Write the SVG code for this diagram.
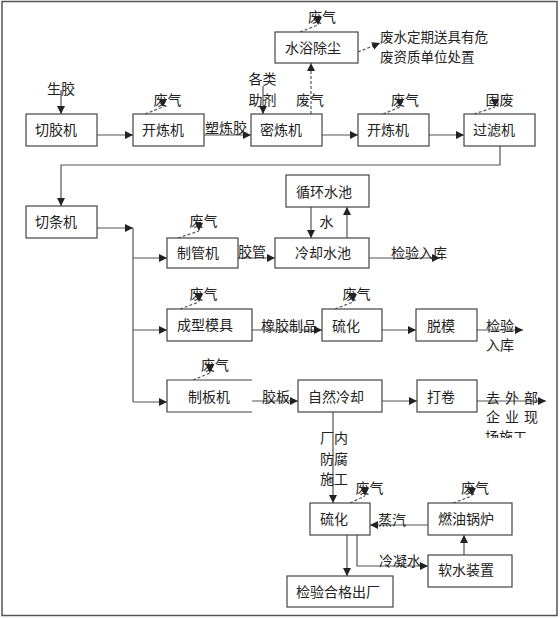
<svg xmlns="http://www.w3.org/2000/svg" width="560" height="618" viewBox="0 0 560 618">
<defs>
<style>
.box{fill:#fff;stroke:#444;stroke-width:1.2}
.ln{fill:none;stroke:#555;stroke-width:1.2}
.ds{fill:none;stroke:#555;stroke-width:1.2;stroke-dasharray:3,2}
text{font-family:"Noto Sans CJK SC","Noto Sans",sans-serif;font-size:14px;fill:#222}
.t{font-size:13.5px}
</style>
<marker id="ar" viewBox="0 0 10 10" refX="10" refY="5" markerWidth="8" markerHeight="8" markerUnits="userSpaceOnUse" orient="auto">
<path d="M0,0 L10,5 L0,10 z" fill="#222"/>
</marker>
<marker id="ad" viewBox="0 0 10 10" refX="10" refY="5" markerWidth="8" markerHeight="8" markerUnits="userSpaceOnUse" orient="90">
<path d="M0,0 L10,5 L0,10 z" fill="#222"/>
</marker>
<clipPath id="cl"><rect x="480" y="425" width="60" height="13"/></clipPath>
</defs>
<rect x="2" y="1.5" width="555" height="614" fill="#fff" stroke="#555" stroke-width="1.5"/>

<g id="connectors">
<path class="ln" d="M61,90 V114" marker-end="url(#ar)"/>
<path class="ln" d="M97,135 H133" marker-end="url(#ar)"/>
<path class="ln" d="M204,135 H251" marker-end="url(#ar)"/>
<path class="ln" d="M263,86 V114" marker-end="url(#ar)"/>
<path class="ln" d="M322,135 H358" marker-end="url(#ar)"/>
<path class="ln" d="M429,135 H464" marker-end="url(#ar)"/>
<path class="ln" d="M500,146 V165 H61 V206" marker-end="url(#ar)"/>
<path class="ln" d="M97,228 H133" marker-end="url(#ar)"/>
<path class="ln" d="M133,228 V402"/>
<path class="ln" d="M133,258 H167" marker-end="url(#ar)"/>
<path class="ln" d="M133,330 H167" marker-end="url(#ar)"/>
<path class="ln" d="M133,402 H167" marker-end="url(#ar)"/>
<path class="ln" d="M238,258 H275" marker-end="url(#ar)"/>
<path class="ln" d="M311,207 V238" marker-end="url(#ar)"/>
<path class="ln" d="M347,238 V207" marker-end="url(#ar)"/>
<path class="ln" d="M369,258 H440" marker-end="url(#ar)"/>
<path class="ln" d="M252,330 H322" marker-end="url(#ar)"/>
<path class="ln" d="M382,330 H416" marker-end="url(#ar)"/>
<path class="ln" d="M477,330 H523" marker-end="url(#ar)"/>
<path class="ln" d="M252,401 H298" marker-end="url(#ar)"/>
<path class="ln" d="M382,401 H417" marker-end="url(#ar)"/>
<path class="ln" d="M477,401 H546" marker-end="url(#ar)"/>
<path class="ln" d="M333,412 V503" marker-end="url(#ar)"/>
<path class="ln" d="M428,525 H370" marker-end="url(#ar)"/>
<path class="ln" d="M464,555 V535" marker-end="url(#ar)"/>
<path class="ln" d="M357,535 V566 H428" marker-end="url(#ar)"/>
<path class="ln" d="M347,535 V576" marker-end="url(#ar)"/>

<path class="ds" d="M145,114 L163,107" marker-end="url(#ad)"/>
<path class="ds" d="M311,114 V63" marker-end="url(#ar)"/>
<path class="ds" d="M300,32 L318,25" marker-end="url(#ad)"/>
<path class="ds" d="M358,52 L380,43" marker-end="url(#ar)"/>
<path class="ds" d="M383,114 L400,107" marker-end="url(#ad)"/>
<path class="ds" d="M474,114 L495,107" marker-end="url(#ad)"/>
<path class="ds" d="M178,238 L199,231" marker-end="url(#ad)"/>
<path class="ds" d="M180,309 L199,302" marker-end="url(#ad)"/>
<path class="ds" d="M335,309 L353,302" marker-end="url(#ad)"/>
<path class="ds" d="M193,380 L210,373" marker-end="url(#ad)"/>
<path class="ds" d="M350,503 L365,496" marker-end="url(#ad)"/>
<path class="ds" d="M453,503 L472,496" marker-end="url(#ad)"/>
</g>

<g id="labels">
<text x="61" y="94" text-anchor="middle">生胶</text>
<text x="167.5" y="104.5" text-anchor="middle">废气</text>
<text x="262.5" y="83.5" text-anchor="middle">各类</text>
<text x="262.5" y="104.5" text-anchor="middle">助剂</text>
<text x="310" y="104.5" text-anchor="middle">废气</text>
<text x="322" y="22" text-anchor="middle">废气</text>
<text x="405" y="104.5" text-anchor="middle">废气</text>
<text x="499.5" y="104.5" text-anchor="middle">固废</text>
<text x="380" y="42" class="t">废水定期送具有危</text>
<text x="380" y="62" class="t">废资质单位处置</text>
<text x="205" y="133">塑炼胶</text>
<text x="203.5" y="226" text-anchor="middle">废气</text>
<text x="238" y="257">胶管</text>
<text x="326.5" y="227" text-anchor="middle">水</text>
<text x="391" y="258">检验入库</text>
<text x="203.5" y="298.5" text-anchor="middle">废气</text>
<text x="261" y="330.5">橡胶制品</text>
<text x="356.5" y="298.5" text-anchor="middle">废气</text>
<text x="486" y="330.5">检验</text>
<text x="486" y="350">入库</text>
<text x="215" y="370" text-anchor="middle">废气</text>
<text x="262" y="402">胶板</text>
<text x="486" y="403" letter-spacing="5">去外部</text>
<text x="486" y="422" letter-spacing="5">企业现</text>
<text x="485" y="442" clip-path="url(#cl)">场施工</text>
<text x="320" y="442.5">厂内</text>
<text x="320" y="464">防腐</text>
<text x="320" y="484">施工</text>
<text x="369.5" y="493" text-anchor="middle">废气</text>
<text x="475" y="493" text-anchor="middle">废气</text>
<text x="378" y="524.5">蒸汽</text>
<text x="379" y="566">冷凝水</text>
</g>

<g id="n-qiejiaoji"><rect class="box" x="26" y="114" width="71" height="32"/><text x="35" y="135">切胶机</text></g>
<g id="n-kailianji1"><rect class="box" x="133" y="114" width="71" height="32"/><text x="142" y="135">开炼机</text></g>
<g id="n-milianji"><rect class="box" x="251" y="114" width="71" height="32"/><text x="260" y="135">密炼机</text></g>
<g id="n-kailianji2"><rect class="box" x="358" y="114" width="71" height="32"/><text x="367" y="135">开炼机</text></g>
<g id="n-guolvji"><rect class="box" x="464" y="114" width="71" height="32"/><text x="473" y="135">过滤机</text></g>
<g id="n-shuiyu"><rect class="box" x="275" y="32" width="83" height="31"/><text x="285" y="52.5">水浴除尘</text></g>
<g id="n-qietiaoji"><rect class="box" x="26" y="206" width="71" height="32"/><text x="35" y="227">切条机</text></g>
<g id="n-zhiguanji"><rect class="box" x="167" y="238" width="71" height="30"/><text x="177" y="258">制管机</text></g>
<g id="n-xunhuan"><rect class="box" x="286" y="175" width="83" height="32"/><text x="296" y="197">循环水池</text></g>
<g id="n-lengque"><rect class="box" x="275" y="238" width="94" height="30"/><text x="295" y="258">冷却水池</text></g>
<g id="n-chengxing"><rect class="box" x="167" y="309" width="85" height="32"/><text x="177" y="330">成型模具</text></g>
<g id="n-liuhua1"><rect class="box" x="322" y="309" width="60" height="32"/><text x="332" y="330.5">硫化</text></g>
<g id="n-tuomo"><rect class="box" x="416" y="309" width="61" height="32"/><text x="427" y="330.5">脱模</text></g>
<g id="n-zhibanji"><path class="box" d="M252,380 H167 V412 H252" fill="none"/><text x="188" y="402">制板机</text></g>
<g id="n-ziran"><rect class="box" x="298" y="380" width="84" height="32"/><text x="308" y="402">自然冷却</text></g>
<g id="n-dajuan"><rect class="box" x="417" y="380" width="60" height="32"/><text x="427" y="402">打卷</text></g>
<g id="n-liuhua2"><rect class="box" x="310" y="503" width="60" height="32"/><text x="320" y="524">硫化</text></g>
<g id="n-guolu"><rect class="box" x="428" y="503" width="84" height="32"/><text x="438" y="524">燃油锅炉</text></g>
<g id="n-ruanshui"><rect class="box" x="428" y="555" width="84" height="32"/><text x="438" y="575">软水装置</text></g>
<g id="n-jianyan"><rect class="box" x="287" y="576" width="106" height="31"/><text x="296" y="597">检验合格出厂</text></g>
</svg>
